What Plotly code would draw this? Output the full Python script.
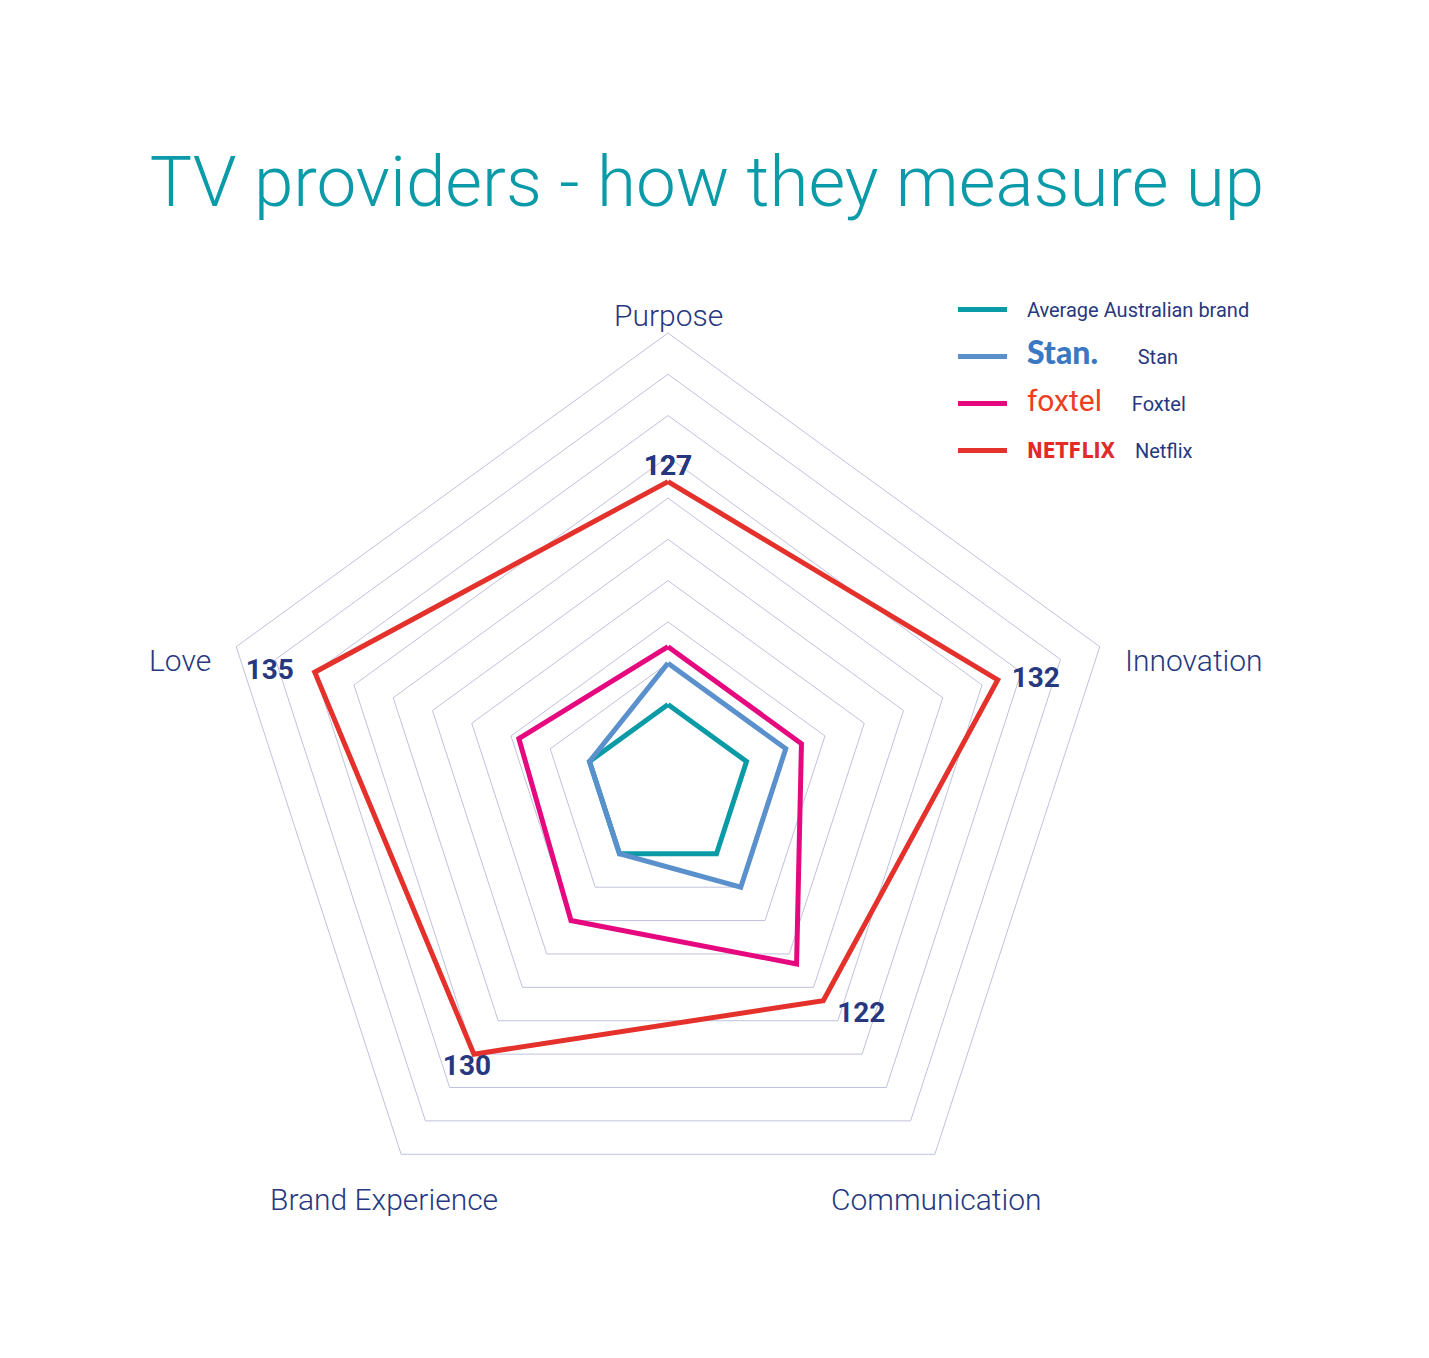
import plotly.graph_objects as go

categories = ["Purpose", "Innovation", "Communication", "Brand Experience", "Love"]
avg_values = [100, 100, 100, 100, 100]
stan_values = [105, 105, 105, 100, 100]
foxtel_values = [107, 107, 116.5, 110, 109]
netflix_values = [127, 132, 122, 130, 135]
netflix_labels = ["127", "132", "122", "130", "135"]
ring_values = [100, 105, 110, 115, 120, 125, 130, 135, 140, 145]

NAVY = "#27387f"
FONT = "Roboto"
OFF = 8  # page body margin

def closed(v):
    return list(v) + [v[0]]

cats_c = closed(categories)
NB = "&nbsp;"

# pad label text away from vertices according to side
pads = ["{}", NB * 2 + "{}", NB * 2 + "{}", "{}" + NB * 2, "{}" + NB * 3]
nf_text = [p.format(t) for p, t in zip(pads, netflix_labels)]

LEAD = NB * 3
fig = go.Figure()
series = [
    (LEAD + "Average Australian brand", avg_values, "#0b9ba6"),
    (LEAD + "<span style='color:#3b78c2;font-size:32px;font-family:Lato;font-weight:900'>Stan.</span>" + NB * 8 + "Stan",
     stan_values, "#5a91cd"),
    (LEAD + "<span style='color:#ea3f22;font-size:30px;font-family:Roboto;font-weight:400'>foxtel</span>" + NB * 6 + "Foxtel",
     foxtel_values, "#e5087e"),
    (LEAD + "<span style='color:#e32a26;font-size:21px;font-family:DejaVu Sans Condensed, DejaVu Sans, sans-serif;font-weight:bold'>NETFLIX</span>" + NB * 4 + "Netflix",
     netflix_values, "#e4312b"),
]
for i, (name, vals, col) in enumerate(series):
    is_nf = i == 3
    fig.add_trace(go.Scatterpolar(
        r=closed(vals), theta=cats_c, name=name,
        mode="lines+text" if is_nf else "lines",
        line=dict(color=col, width=5),
        text=closed(nf_text) if is_nf else None,
        textposition=["top center", "middle right", "bottom right", "bottom center", "middle left", "top center"] if is_nf else None,
        textfont=dict(family=FONT, size=28, color=NAVY, weight="bold"),
        legendgroup=str(i), cliponaxis=False,
        hoverinfo="skip",
    ))

W, H = 1429, 1358
cx, cy, R = 668 - OFF, 787 - OFF, 454
fig.update_layout(
    width=W, height=H, margin=dict(l=0, r=0, t=0, b=0),
    paper_bgcolor="white", plot_bgcolor="white",
    title=dict(text="TV providers - how they measure up", x=(707 - OFF) / W, y=1 - (181 - OFF) / H,
               xanchor="center", yanchor="middle",
               font=dict(family=FONT, size=71, color="#0a9aa8", weight=300)),
    polar=dict(
        domain=dict(x=[(cx - R) / W, (cx + R) / W], y=[1 - (cy + R) / H, 1 - (cy - R) / H]),
        bgcolor="white",
        gridshape="linear",
        radialaxis=dict(range=[90, 145], tickvals=ring_values, showticklabels=False,
                        ticks="", showline=False, gridcolor="#bfc2db", gridwidth=1),
        angularaxis=dict(rotation=90, direction="clockwise", showticklabels=False, ticks="",
                         showgrid=False, showline=True, linecolor="#bfc2db", linewidth=1),
    ),
    legend=dict(x=(953 - OFF) / W, y=1 - (290 - OFF) / H, xanchor="left", yanchor="top",
                font=dict(family=FONT, size=20, color=NAVY), itemwidth=49,
                tracegroupgap=18, bgcolor="rgba(0,0,0,0)"),
    showlegend=True,
)

label_pos = [(668, 316), (1194, 660), (936, 1199), (384, 1199), (180, 660)]
for cat, (x, y) in zip(categories, label_pos):
    fig.add_annotation(text=cat, x=(x - OFF) / W, y=1 - (y - OFF) / H, xref="paper", yref="paper",
                       showarrow=False, xanchor="center", yanchor="middle",
                       font=dict(family=FONT, size=30, color=NAVY, weight=300))

fig.write_html("out.html")
